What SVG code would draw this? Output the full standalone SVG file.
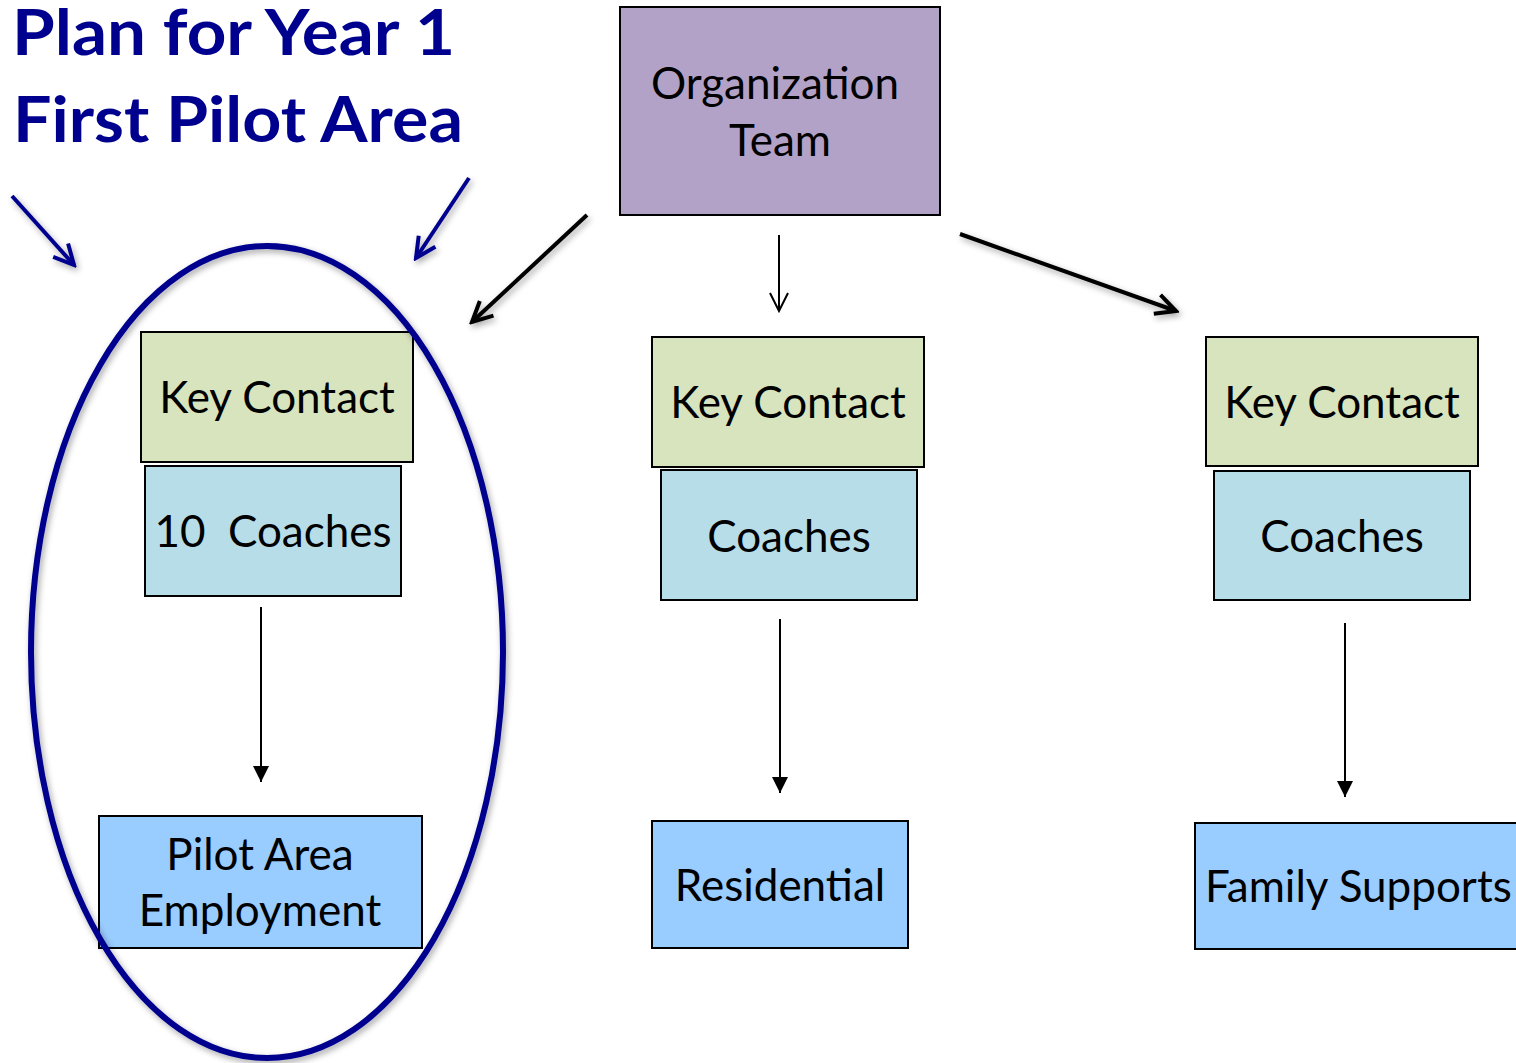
<svg xmlns="http://www.w3.org/2000/svg" width="1516" height="1063" viewBox="0 0 1516 1063">
<defs>
<style>
.t{font-family:Lato,"Open Sans","Liberation Sans",sans-serif;font-size:44px;fill:#000;text-anchor:middle}
.title{font-family:Lato,"Open Sans","Liberation Sans",sans-serif;font-size:64px;font-weight:bold;fill:#00008f}
.box{stroke:#000;stroke-width:2}
.kc{fill:#d7e4bd}
.co{fill:#b7dde8}
.bl{fill:#99ccff}
.org{fill:#b3a2c7}
</style>
<filter id="sh" x="-10%" y="-10%" width="130%" height="130%">
<feDropShadow dx="2" dy="3" stdDeviation="3" flood-color="#000" flood-opacity="0.35"/>
</filter>
<marker id="tri" viewBox="0 0 16 16" refX="16" refY="8" markerWidth="16" markerHeight="16" markerUnits="userSpaceOnUse" orient="auto">
<path d="M0,0 L16,8 L0,16 Z" fill="#000"/>
</marker>
<marker id="openThin" viewBox="-20 -12 22 24" refX="0" refY="0" markerWidth="22" markerHeight="24" markerUnits="userSpaceOnUse" orient="auto">
<path d="M-18,-9 L0,0 L-18,9" fill="none" stroke="#000" stroke-width="2"/>
</marker>
<marker id="openBlack" viewBox="-24 -14 27 28" refX="0" refY="0" markerWidth="27" markerHeight="28" markerUnits="userSpaceOnUse" orient="auto">
<path d="M-20,-10 L0,0 L-20,10" fill="none" stroke="#000" stroke-width="4" stroke-linejoin="miter"/>
</marker>
<marker id="openBlue" viewBox="-24 -14 27 28" refX="0" refY="0" markerWidth="27" markerHeight="28" markerUnits="userSpaceOnUse" orient="auto">
<path d="M-20,-10 L0,0 L-20,10" fill="none" stroke="#00008f" stroke-width="4" stroke-linejoin="miter"/>
</marker>
</defs>
<rect width="1516" height="1063" fill="#fff"/>

<g id="title">
<text class="title" x="12" y="55" textLength="443" lengthAdjust="spacingAndGlyphs">Plan for Year 1</text>
<text class="title" x="13" y="142" textLength="450" lengthAdjust="spacingAndGlyphs">First Pilot Area</text>
</g>

<g id="org-team">
<rect class="box org" x="620" y="7" width="320" height="208"/>
<text class="t" x="775" y="99">Organization</text>
<text class="t" x="780" y="156">Team</text>
</g>

<g id="key-contact-1">
<rect class="box kc" x="141" y="332" width="272" height="130"/>
<text class="t" x="277" y="413">Key Contact</text>
</g>
<g id="coaches-1">
<rect class="box co" x="145" y="466" width="256" height="130"/>
<text class="t" x="273" y="547" xml:space="preserve">10  Coaches</text>
</g>
<g id="pilot-area">
<rect class="box bl" x="99" y="816" width="323" height="132"/>
<text class="t" x="260" y="870">Pilot Area</text>
<text class="t" x="260" y="926">Employment</text>
</g>

<g id="key-contact-2">
<rect class="box kc" x="652" y="337" width="272" height="130"/>
<text class="t" x="788" y="418">Key Contact</text>
</g>
<g id="coaches-2">
<rect class="box co" x="661" y="470" width="256" height="130"/>
<text class="t" x="789" y="552">Coaches</text>
</g>
<g id="residential">
<rect class="box bl" x="652" y="821" width="256" height="127"/>
<text class="t" x="780" y="901">Residential</text>
</g>

<g id="key-contact-3">
<rect class="box kc" x="1206" y="337" width="272" height="129"/>
<text class="t" x="1342" y="418">Key Contact</text>
</g>
<g id="coaches-3">
<rect class="box co" x="1214" y="471" width="256" height="129"/>
<text class="t" x="1342" y="552">Coaches</text>
</g>
<g id="family-supports">
<rect class="box bl" x="1195" y="823" width="330" height="126"/>
<text class="t" x="1205" y="902" style="text-anchor:start">Family Supports</text>
</g>

<g id="connectors">
<line x1="261" y1="607" x2="261" y2="782" stroke="#000" stroke-width="2" marker-end="url(#tri)"/>
<line x1="780" y1="619" x2="780" y2="793" stroke="#000" stroke-width="2" marker-end="url(#tri)"/>
<line x1="1345" y1="623" x2="1345" y2="797" stroke="#000" stroke-width="2" marker-end="url(#tri)"/>
<line x1="779" y1="235" x2="779" y2="311" stroke="#000" stroke-width="2" marker-end="url(#openThin)"/>
<g filter="url(#sh)">
<line x1="960" y1="234" x2="1176" y2="311" stroke="#000" stroke-width="4" marker-end="url(#openBlack)"/>
<line x1="587" y1="215" x2="472" y2="322" stroke="#000" stroke-width="4" marker-end="url(#openBlack)"/>
<line x1="12" y1="196" x2="74" y2="265" stroke="#00008f" stroke-width="4" marker-end="url(#openBlue)"/>
<line x1="469" y1="178" x2="416" y2="258" stroke="#00008f" stroke-width="4" marker-end="url(#openBlue)"/>
</g>
</g>

<g id="pilot-ellipse">
<ellipse cx="267" cy="652" rx="236" ry="406" fill="none" stroke="#00008f" stroke-width="6" filter="url(#sh)"/>
</g>
</svg>
